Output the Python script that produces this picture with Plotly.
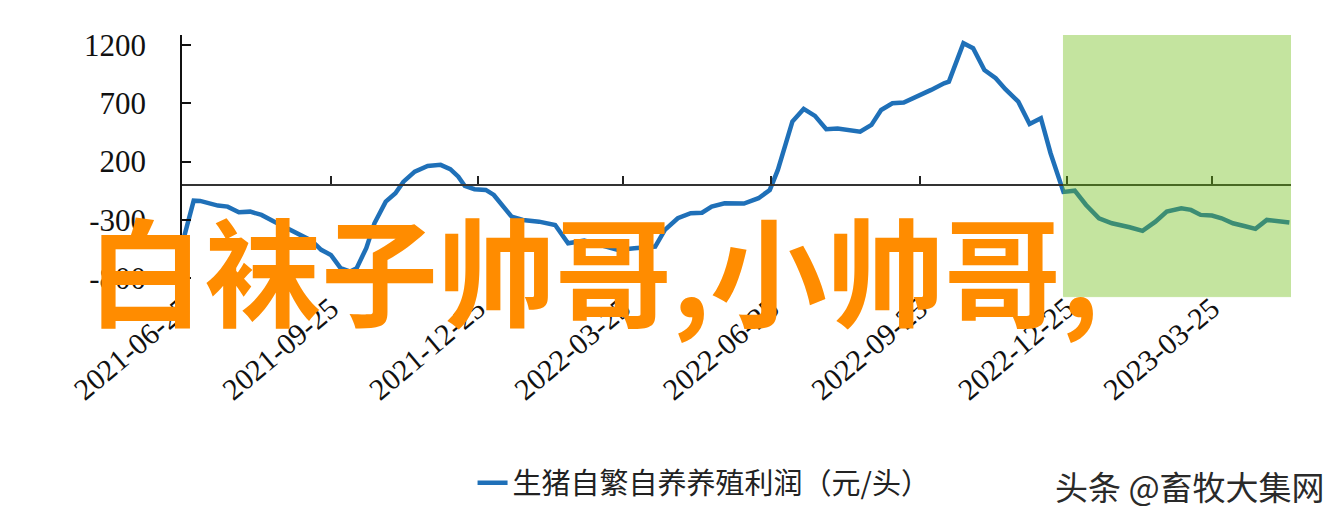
import plotly.graph_objects as go

# ---- data ----
dates = [
    "2021-06-25", "2021-07-02", "2021-07-06", "2021-07-11", "2021-07-17", "2021-07-23",
    "2021-07-30", "2021-08-06", "2021-08-13", "2021-08-21", "2021-08-30", "2021-09-07",
    "2021-09-13", "2021-09-19", "2021-09-25", "2021-10-01", "2021-10-07", "2021-10-11",
    "2021-10-17", "2021-10-22", "2021-10-29", "2021-11-04", "2021-11-09", "2021-11-16",
    "2021-11-24", "2021-12-02", "2021-12-08", "2021-12-13", "2021-12-17", "2021-12-23",
    "2021-12-30", "2022-01-04", "2022-01-09", "2022-01-15", "2022-01-22", "2022-02-01",
    "2022-02-11", "2022-02-15", "2022-02-19", "2022-03-01", "2022-03-12", "2022-03-22",
    "2022-04-01", "2022-04-14", "2022-04-20", "2022-04-28", "2022-05-06", "2022-05-13",
    "2022-05-19", "2022-05-27", "2022-06-08", "2022-06-17", "2022-06-24", "2022-06-29",
    "2022-07-04", "2022-07-08", "2022-07-15", "2022-07-22", "2022-07-29", "2022-08-05",
    "2022-08-19", "2022-08-26", "2022-09-01", "2022-09-08", "2022-09-15", "2022-09-22",
    "2022-10-02", "2022-10-10", "2022-10-13", "2022-10-22", "2022-10-28", "2022-11-04",
    "2022-11-11", "2022-11-17", "2022-11-25", "2022-12-02", "2022-12-09", "2022-12-15",
    "2022-12-23", "2022-12-30", "2023-01-06", "2023-01-14", "2023-01-22", "2023-02-02",
    "2023-02-10", "2023-02-18", "2023-02-25", "2023-03-06", "2023-03-12", "2023-03-18",
    "2023-03-25", "2023-03-31", "2023-04-07", "2023-04-14", "2023-04-21", "2023-04-28",
    "2023-05-04", "2023-05-12",
]
profit = [
    -500, -135, -137, -157, -177, -186,
    -234, -229, -257, -315, -380, -443,
    -478, -557, -600, -714, -743, -714,
    -540, -329, -143, -71, 28, 114,
    163, 172, 135, 71, -9, -37,
    -43, -86, -172, -272, -300, -315,
    -343, -429, -500, -478, -515, -557,
    -543, -529, -386, -286, -243, -238,
    -186, -157, -160, -114, -43, 129,
    358, 543, 652, 592, 478, 483,
    457, 515, 643, 700, 706, 749,
    815, 872, 886, 1215, 1172, 986,
    915, 821, 714, 523, 572, 272,
    -60, -49, -172, -286, -329, -363,
    -394, -315, -229, -200, -214, -257,
    -263, -286, -329, -352, -377, -300,
    -306, -323,
]
tick_dates = ["2021-06-25", "2021-09-25", "2021-12-25", "2022-03-25",
              "2022-06-25", "2022-09-25", "2022-12-25", "2023-03-25"]
tick_labels = list(tick_dates)
y_ticks = [1200, 700, 200, -300, -800]
y_tick_labels = [str(v) for v in y_ticks]   # plain hyphen minus, as in the source
series_name = "生猪自繁自养养殖利润（元/头）"
overlay_title = "白袜子帅哥,小帅哥,"
watermark = "头条 @畜牧大集网"

# ---- layout constants ----
X_RANGE = ["2021-06-24 18:00", "2023-05-13"]
Y_RANGE = [-987, 1286]
HIGHLIGHT_START = "2022-12-23"
HIGHLIGHT_BOTTOM = -958
zero_pos = (0 - Y_RANGE[0]) / (Y_RANGE[1] - Y_RANGE[0])

LINE_BLUE = "#1f70b8"
serif = "Liberation Serif, Times New Roman, serif"
cjk = "Noto Sans CJK SC, sans-serif"

fig = go.Figure()
fig.add_trace(go.Scatter(
    x=dates, y=profit, mode="lines", name=series_name,
    line=dict(color=LINE_BLUE, width=4.5), xaxis="x", yaxis="y",
))
# invisible twin on the zero-crossing axis so that axis is drawn
fig.add_trace(go.Scatter(
    x=dates, y=profit, mode="lines", showlegend=False, hoverinfo="skip",
    line=dict(color="rgba(0,0,0,0)", width=0), xaxis="x2", yaxis="y",
))

fig.add_shape(
    type="rect", xref="x", yref="y",
    x0=HIGHLIGHT_START, x1=X_RANGE[1], y0=HIGHLIGHT_BOTTOM, y1=Y_RANGE[1],
    fillcolor="rgb(106,188,11)", opacity=0.39,
    line=dict(color="rgb(106,188,11)", width=1), layer="above",
)

fig.update_layout(
    width=1342, height=522,
    margin=dict(l=182, r=51, t=35, b=222, autoexpand=False),
    paper_bgcolor="white", plot_bgcolor="white",
    showlegend=True,
    legend=dict(
        orientation="h", x=0.262, xanchor="left", y=-0.69, yanchor="middle",
        font=dict(family=cjk, size=29, color="#222"),
        bgcolor="rgba(0,0,0,0)",
    ),
    xaxis=dict(
        type="date", range=X_RANGE, automargin=False,
        tickmode="array", tickvals=tick_dates, ticktext=tick_labels,
        tickangle=-40, ticks="", showline=False, showgrid=False, zeroline=False,
        ticklabelstandoff=-16,
        tickfont=dict(family=serif, size=30, color="#111"),
    ),
    xaxis2=dict(
        type="date", matches="x", overlaying="x", anchor="free",
        position=zero_pos, side="bottom", automargin=False,
        tickmode="array", tickvals=tick_dates, showticklabels=False,
        ticks="inside", ticklen=8, tickwidth=1.5, tickcolor="#222",
        showline=True, linecolor="#333", linewidth=2,
        showgrid=False, zeroline=False,
    ),
    yaxis=dict(
        range=Y_RANGE, tickmode="array", tickvals=y_ticks, ticktext=y_tick_labels,
        ticks="inside", ticklen=9, tickwidth=1.5, tickcolor="#111",
        showline=True, linecolor="#111", linewidth=1.5, automargin=False,
        showgrid=False, zeroline=False, ticklabelstandoff=28,
        tickfont=dict(family=serif, size=31, color="#111"),
    ),
    annotations=[
        dict(
            text=overlay_title, xref="paper", yref="paper",
            x=-0.0875, xanchor="left", y=0.124, yanchor="middle",
            showarrow=False,
            font=dict(family=cjk, size=117, color="#FF8C00", weight="bold"),
        ),
        dict(
            text=watermark, xref="paper", yref="paper",
            x=1.0325, xanchor="right", y=-0.702, yanchor="middle",
            showarrow=False,
            font=dict(family=cjk, size=33, color="#2a2a2a"),
        ),
    ],
)

fig.write_html("out.html", config={"displayModeBar": False},
               post_script="document.body.style.margin='0';")
